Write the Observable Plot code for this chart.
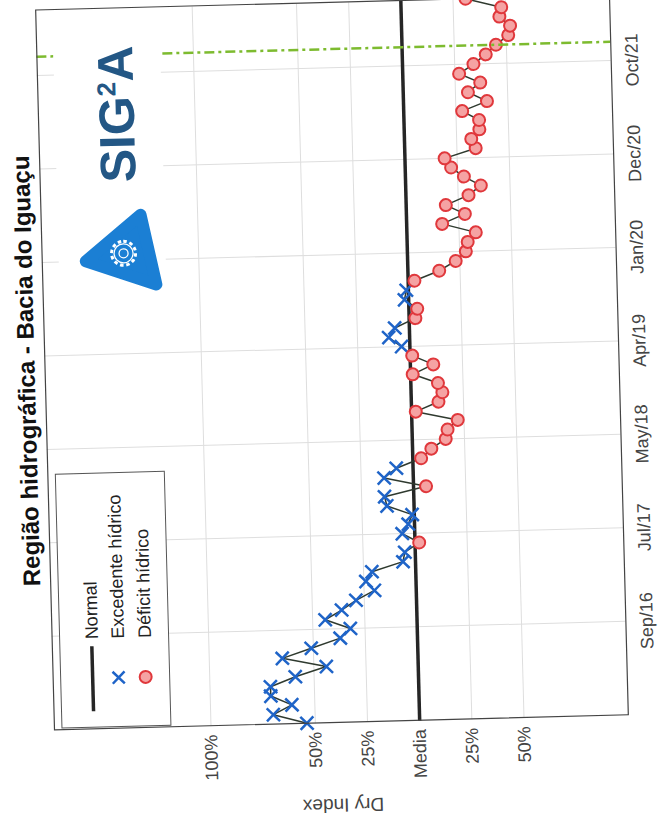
<!DOCTYPE html>
<html>
<head>
<meta charset="utf-8">
<script src="https://cdn.jsdelivr.net/npm/d3@7"></script>
<script src="https://cdn.jsdelivr.net/npm/@observablehq/plot@0.6"></script>
<style>
  html, body { margin: 0; padding: 0; background: #ffffff; overflow: hidden; width: 658px; height: 840px; }
  #wrap { position: absolute; left: -91px; top: 91px; width: 840px; height: 658px;
          transform: rotate(-91.5deg); transform-origin: 50% 50%; background: #fff;
          font-family: "Liberation Sans", Arial, sans-serif; }
  #title { position: absolute; left: 117px; top: 0; width: 720px; height: 42px; line-height: 56px;
           text-align: center; font-weight: bold; font-size: 24px; color: #111; }
  #plot { position: absolute; left: 0; top: 42px; }
  #overlay { position: absolute; left: 0; top: 0; width: 840px; height: 658px; pointer-events: none; }
</style>
</head>
<body>
<div id="wrap">
  <div id="title">Região hidrográfica - Bacia do Iguaçu</div>
  <div id="plot"></div>
  <svg id="overlay" width="840" height="658"></svg>
</div>
<script>
// ---- data ----
const dryIndex = [
  54, 70, 61, 71, 71, 59, 44, 65, 51, 37,
  32, 44, 36, 29, 20, 24, 21, 6, 5, -2,
  6, 3, 1, 13, 14, -6, 14, 8, -4, -9,
  -16, -17, -22, -2, -13, -15, -13, -1, -11, -1,
  4, 10, 7, -3, -4, 2, 1, -3, -15, -23,
  -28, -29, -33, -17, -28, -19, -30, -36, -28, -22,
  -19, -34, -32, -36, -36, -28, -40, -31, -37, -27,
  -34, -40, -45, -51, -52, -47, -48, -31
];
const xTickPos = [11, 21, 31, 41, 51, 61, 71];
const xTickLabels = ["Sep/16", "Jul/17", "May/18", "Apr/19", "Jan/20", "Dec/20", "Oct/21"];
const yTickPos = [100, 50, 25, 0, -25, -50];
const yTickLabels = ["100%", "50%", "25%", "Media", "25%", "50%"];
const normalLevel = [0];
const markerLine = [73];
const legendLabels = ["Normal", "Excedente hídrico", "Déficit hídrico"];

const blue = "#1f64c8", red = "#e0383c", pink = "#f5a3a3", dark = "#262626", green = "#7dbb2f";

const data = dryIndex.map((v, k) => ({i: k + 1, v}));

const chart = Plot.plot({
  width: 840, height: 616,
  marginTop: 4, marginBottom: 38, marginLeft: 117, marginRight: 3,
  style: {fontFamily: "'Liberation Sans', Arial, sans-serif", background: "transparent", color: "#444"},
  x: {domain: [1, 78]},
  y: {domain: [-100, 175]},
  marks: [
    Plot.gridX(xTickPos, {stroke: "#dedede", strokeOpacity: 1}),
    Plot.gridY(yTickPos, {stroke: "#dedede", strokeOpacity: 1}),
    Plot.ruleY(normalLevel, {stroke: dark, strokeWidth: 3.5}),
    Plot.line(data, {x: "i", y: "v", stroke: "#2f3a2f", strokeWidth: 1.5}),
    Plot.dot(data.filter(d => d.v >= 0), {x: "i", y: "v", symbol: "times", r: 6, stroke: blue, strokeWidth: 2.5}),
    Plot.dot(data.filter(d => d.v < 0), {x: "i", y: "v", symbol: "circle", r: 6, stroke: red, fill: pink, fillOpacity: 1, strokeWidth: 2}),
    Plot.ruleX(markerLine, {stroke: green, strokeWidth: 2.5, strokeDasharray: "10,4,3,4"}),
    Plot.axisX({ticks: xTickPos, tickFormat: d => xTickLabels[xTickPos.indexOf(d)], tickSize: 0, tickPadding: 14, fontSize: 18, label: null}),
    Plot.axisY({ticks: yTickPos, tickFormat: d => yTickLabels[yTickPos.indexOf(d)], tickSize: 0, tickPadding: 9, fontSize: 18,
                label: "Dry Index", labelAnchor: "center", labelArrow: "none", labelOffset: 90}),
    Plot.frame({stroke: "#444", strokeWidth: 1.2})
  ]
});
document.getElementById("plot").appendChild(chart);
// remove any arrow glyph from the y label, keep plain text
chart.querySelectorAll("text").forEach(el => {
  if (/Dry Index/.test(el.textContent)) { el.textContent = "Dry Index"; el.setAttribute("font-size", 19); }
});

// ---- overlay: logo and legend ----
const ov = d3.select("#overlay");
// logo background
ov.append("rect").attr("x", 545).attr("y", 63).attr("width", 265).attr("height", 107).attr("fill", "#fff");
ov.append("polygon").attr("points", "630,146 585,90 560,160")
  .attr("fill", "#1b7fd4").attr("stroke", "#1b7fd4").attr("stroke-width", 12).attr("stroke-linejoin", "round");
const g = ov.append("g").attr("transform", "translate(592,128)");
g.append("circle").attr("r", 12).attr("fill", "none").attr("stroke", "#fff").attr("stroke-width", 3).attr("stroke-dasharray", "3.5,2.8");
g.append("circle").attr("r", 9.5).attr("fill", "none").attr("stroke", "#fff").attr("stroke-width", 1.3);
g.append("circle").attr("r", 4.5).attr("fill", "none").attr("stroke", "#fff").attr("stroke-width", 1.3);
const t = ov.append("text").attr("x", 663).attr("y", 142).attr("font-size", 50).attr("font-weight", "bold")
  .attr("font-family", "'Liberation Sans', Arial, sans-serif").attr("fill", "#235785");
t.append("tspan").text("SIG");
t.append("tspan").attr("dy", -18).attr("font-size", 26).text("2");
t.append("tspan").attr("dy", 18).text("A");

// legend
const lg = ov.append("g").attr("font-family", "'Liberation Sans', Arial, sans-serif").attr("font-size", 18).attr("fill", "#222");
lg.append("rect").attr("x", 119).attr("y", 54).attr("width", 254).attr("height", 109)
  .attr("fill", "#fff").attr("stroke", "#555").attr("stroke-width", 1);
const rows = [86, 112, 139];
lg.append("line").attr("x1", 135).attr("x2", 200).attr("y1", rows[0]).attr("y2", rows[0]).attr("stroke", dark).attr("stroke-width", 3.5);
lg.append("path").attr("d", `M162,${rows[1]-6}L174,${rows[1]+6}M162,${rows[1]+6}L174,${rows[1]-6}`).attr("stroke", blue).attr("stroke-width", 2.5);
lg.append("circle").attr("cx", 168).attr("cy", rows[2]).attr("r", 6).attr("stroke", red).attr("fill", pink).attr("stroke-width", 2);
legendLabels.forEach((s, k) => lg.append("text").attr("x", 207).attr("y", rows[k]).attr("dy", "0.35em").text(s));
</script>
</body>
</html>
